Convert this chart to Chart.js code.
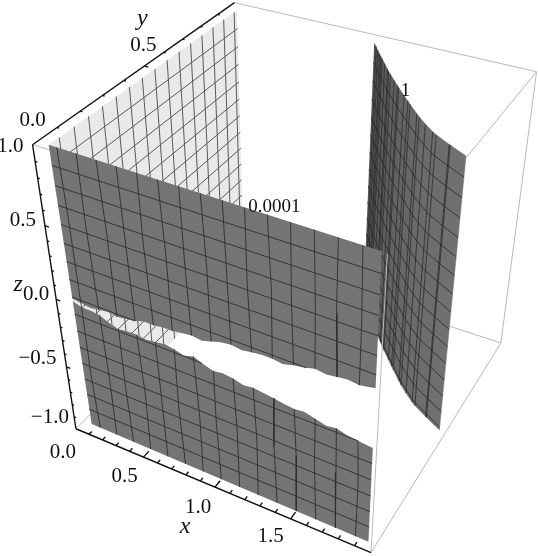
<!DOCTYPE html>
<html>
<head>
<meta charset="utf-8">
<style>html,body{margin:0;background:#fff}canvas{display:block}</style>
<script src="https://cdn.jsdelivr.net/npm/chart.js@4"></script>
</head>
<body>
<canvas id="chart3d" width="538" height="556"></canvas>
<script>
// axis ticks
const xMajor = [0, 0.5, 1, 1.5];
const yMajor = [0, 0.5];
const zMajor = [1, 0.5, 0, -0.5, -1];
const xLabels = ['0.0', '0.5', '1.0', '1.5'];
const yLabels = ['0.0', '0.5'];
const zLabels = ['1.0', '0.5', '0.0', '\u22120.5', '\u22121.0'];

// mesh positions
const meshX = [0.125, 0.25, 0.375, 0.5, 0.625, 0.75, 0.875, 1, 1.125, 1.25, 1.375, 1.5, 1.625, 1.75, 1.875];
const meshY = [0.0625, 0.125, 0.1875, 0.25, 0.3125, 0.375, 0.4375, 0.5, 0.5625, 0.625, 0.6875, 0.75, 0.8125, 0.875, 0.9375];
const meshZ = [0.875, 0.75, 0.625, 0.5, 0.375, 0.25, 0.125, 0, -0.125, -0.25, -0.375, -0.5, -0.625, -0.75, -0.875];

// contour 0.0001, the sheet that hugs y = 0 and x = 0, with its numerical gap
const gapX = [0.075, 0.125, 0.19, 0.25, 0.31, 0.375, 0.44, 0.5, 0.56, 0.625, 0.69, 0.75, 0.81, 0.875, 0.94, 1, 1.06, 1.125, 1.19, 1.25, 1.31, 1.375, 1.44, 1.5, 1.56, 1.625, 1.69, 1.75, 1.81, 1.875, 1.98];
const gapUpperZ = [-0.01, -0.02, -0.03, -0.02, -0.01, -0.02, -0.01, 0, 0.02, 0.02, 0.03, 0.03, 0.04, 0.05, 0.04, 0.06, 0.08, 0.09, 0.08, 0.09, 0.1, 0.1, 0.09, 0.11, 0.12, 0.14, 0.13, 0.14, 0.15, 0.14, 0.16];
const gapLowerZ = [-0.03, -0.05, -0.05, -0.06, -0.09, -0.11, -0.1, -0.1, -0.11, -0.1, -0.09, -0.1, -0.12, -0.1, -0.13, -0.15, -0.14, -0.15, -0.17, -0.16, -0.17, -0.18, -0.19, -0.2, -0.19, -0.21, -0.23, -0.22, -0.24, -0.25, -0.26];
const sheetYLeft = [0.02, 0.04];
const sheetYRight = [0.003, 0.03];
const sheetLeftX = [0.073, 0.06];
const sheetRightX = [1.97, 1.955];
const sheetBackY = 0.955;
// small sideways wander of the mesh lines, read line by line
const wanderUpper = [0.004, -0.006, 0.006, 0, -0.008, 0.006, -0.004, 0.006, 0, -0.006, 0.008, -0.004, 0.004, -0.006, 0.004];
const wanderLower = [-0.008, 0.006, -0.006, 0.01, 0, -0.008, 0.008, -0.006, 0.006, 0.008, -0.008, 0.006, -0.006, 0, 0.008];

// contour 1, the curved sheet
const curveX = [1.03, 1.06, 1.09, 1.12, 1.14, 1.16, 1.2, 1.243, 1.26, 1.285, 1.335, 1.375, 1.391, 1.455, 1.5, 1.524, 1.6, 1.625, 1.684, 1.75, 1.778, 1.875, 1.882, 1.993];
const curveY = [0.948, 0.929, 0.909, 0.89, 0.877, 0.865, 0.84, 0.813, 0.802, 0.788, 0.759, 0.736, 0.727, 0.692, 0.668, 0.655, 0.615, 0.602, 0.575, 0.547, 0.537, 0.508, 0.506, 0.475];
const curveBottomZ = -0.9;

const boxCorners = [
  [0, 0, 1, 33, 146], [0, 1, 1, 234, 2], [2, 1, 1, 537, 72], [2, 0, 1, 387, 253],
  [0, 0, -1, 75, 428], [0, 1, -1, 244, 259], [2, 1, -1, 500, 343], [2, 0, -1, 372, 553]
];

// camera fitted to the eight box corners
function fitCamera(corners) {
  const A = [], b = [];
  corners.forEach(([X, Y, Z, u, v]) => {
    A.push([X, Y, Z, 1, 0, 0, 0, 0, -u * X, -u * Y, -u * Z]); b.push(u);
    A.push([0, 0, 0, 0, X, Y, Z, 1, -v * X, -v * Y, -v * Z]); b.push(v);
  });
  const n = 11;
  const M = [];
  for (let i = 0; i < n; i++) {
    M.push([]);
    for (let j = 0; j < n; j++) M[i].push(A.reduce((s, r) => s + r[i] * r[j], 0));
    M[i].push(A.reduce((s, r, k) => s + r[i] * b[k], 0));
  }
  for (let i = 0; i < n; i++) {
    let best = i;
    for (let r = i + 1; r < n; r++) if (Math.abs(M[r][i]) > Math.abs(M[best][i])) best = r;
    [M[i], M[best]] = [M[best], M[i]];
    for (let r = 0; r < n; r++) {
      if (r === i) continue;
      const f = M[r][i] / M[i][i];
      for (let c = i; c <= n; c++) M[r][c] -= f * M[i][c];
    }
  }
  return M.map((row, i) => row[n] / row[i]);
}
const cam = fitCamera(boxCorners);
function project(x, y, z) {
  const w = cam[8] * x + cam[9] * y + cam[10] * z + 1;
  return {
    x: (cam[0] * x + cam[1] * y + cam[2] * z + cam[3]) / w,
    y: (cam[4] * x + cam[5] * y + cam[6] * z + cam[7]) / w
  };
}

// value of a two-end table at height z
const atZ = (table, z) => table[0] + (table[1] - table[0]) * (1 - z) / 2;
const sheetYAt = (x, z) => atZ(sheetYLeft, z) + (atZ(sheetYRight, z) - atZ(sheetYLeft, z)) * x / 2;
const sheetPoint = (x, z) => project(x, sheetYAt(x, z), z);
const leftX = z => atZ(sheetLeftX, z);
const rightX = z => atZ(sheetRightX, z);
const columnX = (i, z) => i === 0 ? leftX(z) : i === gapX.length - 1 ? rightX(z) : gapX[i];

const datasets = [];
function add(points, style) {
  datasets.push({
    data: points,
    showLine: true,
    pointRadius: 0,
    tension: 0,
    parsing: false,
    borderColor: style.line || 'rgba(0,0,0,0)',
    borderWidth: style.width === undefined ? 1 : style.width,
    backgroundColor: style.fill || 'rgba(0,0,0,0)',
    fill: style.fill ? 'shape' : false,
    order: -datasets.length
  });
}

const edgeGrey = { line: '#b9b9b9', width: 1 };
const axisBlack = { line: '#111', width: 1.4 };
const meshDark = { line: '#2e2e2e', width: 0.9 };
const meshCurve = { line: '#262626', width: 0.8 };
const meshLight = { line: '#5a5a5a', width: 1 };
const corner = (x, y, z) => project(x, y, z);

// hidden box edges
add([corner(0, 1, 1), corner(2, 1, 1)], edgeGrey);
add([corner(2, 1, 1), corner(2, 1, -1)], edgeGrey);
add([corner(2, 1, -1), corner(0, 1, -1)], edgeGrey);
add([corner(0, 0, -1), corner(0, 1, -1)], edgeGrey);
add([corner(2, 1, -1), corner(2, 0, -1)], edgeGrey);
add([corner(2, 0, 1), corner(2, 1, 1)], edgeGrey);
add([corner(0, 0, 1), corner(2, 0, 1)], edgeGrey);

// light back side of the first sheet, along x nearly 0
add([project(leftX(1), sheetYAt(0, 1), 1), project(leftX(1), sheetBackY, 1),
     project(leftX(-1), sheetBackY, -1), project(leftX(-1), sheetYAt(0, -1), -1)], { fill: '#e9e9e9' });
meshY.forEach(y => {
  if (y < sheetBackY) add([project(leftX(1), y, 1), project(leftX(-1), y, -1)], meshLight);
});
meshZ.forEach(z => add([project(leftX(z), sheetYAt(0, z), z), project(leftX(z), sheetBackY, z)], meshLight));

// curved sheet, strip by strip
for (let i = 0; i < curveX.length - 1; i++) {
  const shade = 84 + Math.round(28 * i / (curveX.length - 2));
  const c = `rgb(${shade},${shade},${shade})`;
  add([project(curveX[i], curveY[i], 1), project(curveX[i + 1], curveY[i + 1], 1),
       project(curveX[i + 1], curveY[i + 1], curveBottomZ), project(curveX[i], curveY[i], curveBottomZ)], { fill: c, line: c, width: 0.5 });
}
curveX.forEach((x, i) => {
  if (i > 0 && i < curveX.length - 1) add([project(x, curveY[i], 1), project(x, curveY[i], curveBottomZ)], meshCurve);
});
meshZ.forEach(z => add(curveX.map((x, i) => project(x, curveY[i], z)), meshCurve));

add([corner(2, 0, 1), corner(2, 0, -1)], edgeGrey);

// front of the first sheet, upper and lower pieces
const sheetFill = '#747474';
const upperEdge = gapX.map((x, i) => sheetPoint(columnX(i, gapUpperZ[i]), gapUpperZ[i]));
const lowerEdge = gapX.map((x, i) => sheetPoint(columnX(i, gapLowerZ[i]), gapLowerZ[i]));
add([sheetPoint(leftX(1), 1), sheetPoint(rightX(1), 1)].concat(upperEdge.slice().reverse()), { fill: sheetFill });
add(lowerEdge.concat([sheetPoint(rightX(-1), -1), sheetPoint(leftX(-1), -1)]), { fill: sheetFill });

// vertical mesh lines of the sheet
meshX.forEach((x, m) => {
  const i = gapX.indexOf(x);
  add([sheetPoint(x, 1), sheetPoint(x + wanderUpper[m], 0.55), sheetPoint(x, gapUpperZ[i])], meshDark);
  add([sheetPoint(x, gapLowerZ[i]), sheetPoint(x + wanderLower[m], -0.55), sheetPoint(x, -1)], meshDark);
});
// horizontal mesh lines stop where they meet the gap
function runOutside(z, edge, above) {
  const inside = i => above ? z >= edge[i] : z <= edge[i];
  const pts = [];
  for (let i = 0; i < gapX.length; i++) {
    if (inside(i)) pts.push(sheetPoint(columnX(i, z), z));
    if (i < gapX.length - 1 && inside(i) !== inside(i + 1)) {
      const f = (z - edge[i]) / (edge[i + 1] - edge[i]);
      pts.push(sheetPoint(columnX(i, z) + f * (columnX(i + 1, z) - columnX(i, z)), z));
    }
  }
  return pts;
}
meshZ.forEach(z => {
  const a = runOutside(z, gapUpperZ, true);
  const b = runOutside(z, gapLowerZ, false);
  if (a.length > 1) add(a, meshDark);
  if (b.length > 1) add(b, meshDark);
});

// axes
add([corner(0, 0, 1), corner(0, 1, 1)], axisBlack);
add([corner(0, 0, 1), corner(0, 0, -1)], axisBlack);
add([corner(0, 0, -1), corner(2, 0, -1)], axisBlack);
for (let i = 1; i < 20; i++) {
  const v = i / 10, len = i % 5 === 0 ? 0.028 : 0.014;
  add([project(v, 0, -1), project(v, len, -1)], axisBlack);
}
for (let i = 1; i < 10; i++) {
  const v = i / 10, len = i % 5 === 0 ? 0.028 : 0.014;
  add([project(0, v, 1), project(len, v, 1)], axisBlack);
}
for (let i = -9; i < 10; i++) {
  const v = i / 10, len = i % 5 === 0 ? 0.028 : 0.014;
  add([project(0, 0, v), project(len, 0, v)], axisBlack);
}

// text is placed from the projected tick, shifted off the axis
const xLabelShift = [[-13, 24], [-19, 19], [-17, 20], [-20, 18]];
const yLabelShift = [[0, -24], [-1, -21]];
const zLabelShift = [[-9, 2], [-9, -5], [-7, -5], [-10, -8], [-7, -11]];
const tickFont = '21px "Liberation Serif"';
const axisFont = 'italic 24px "Liberation Serif"';
const labelPlugin = {
  id: 'labels3d',
  afterDraw(chart) {
    const ctx = chart.ctx;
    const sx = chart.scales.x, sy = chart.scales.y;
    const put = (text, p, dx, dy, font, align) => {
      ctx.font = font;
      ctx.textAlign = align || 'center';
      ctx.textBaseline = 'middle';
      ctx.fillStyle = '#111';
      ctx.fillText(text, sx.getPixelForValue(p.x + dx), sy.getPixelForValue(p.y + dy));
    };
    ctx.save();
    xMajor.forEach((v, i) => put(xLabels[i], project(v, 0, -1), xLabelShift[i][0], xLabelShift[i][1], tickFont));
    yMajor.forEach((v, i) => put(yLabels[i], project(0, v, 1), yLabelShift[i][0], yLabelShift[i][1], tickFont));
    zMajor.forEach((v, i) => put(zLabels[i], project(0, 0, v), zLabelShift[i][0], zLabelShift[i][1], tickFont, 'right'));
    put('x', project(1, 0, -1), -30, 40, axisFont);
    put('y', project(0, 0.5, 1), -2, -47, axisFont);
    put('z', project(0, 0, 0), -38, -15, axisFont);
    put('0.0001', project(1.4, 0, 1), 4, -11, '19px "Liberation Serif"');
    put('1', project(1.4, 0.645, 1), 18, -9, '19px "Liberation Serif"');
    ctx.restore();
  }
};

new Chart(document.getElementById('chart3d'), {
  type: 'scatter',
  data: { datasets },
  options: {
    responsive: false,
    animation: false,
    events: [],
    layout: { padding: 0 },
    scales: {
      x: { type: 'linear', min: 0, max: 538, display: false },
      y: { type: 'linear', min: 0, max: 556, reverse: true, display: false }
    },
    plugins: { legend: { display: false }, tooltip: { enabled: false } }
  },
  plugins: [labelPlugin]
});
</script>
</body>
</html>
